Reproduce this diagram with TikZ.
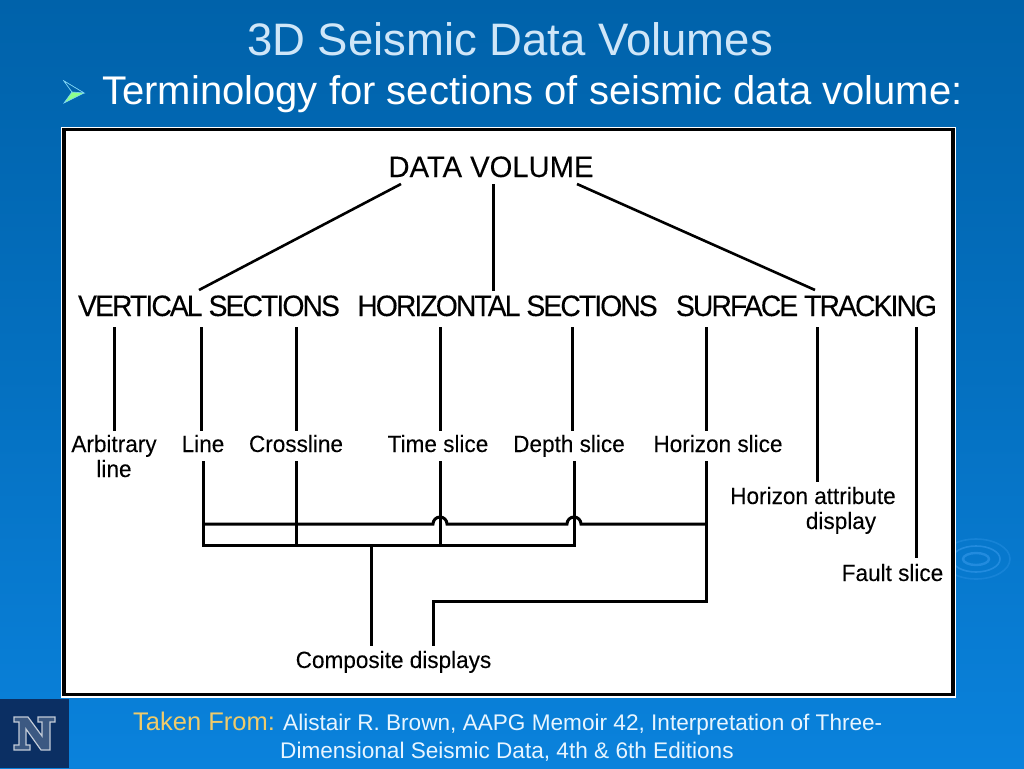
\documentclass[tikz,border=0pt]{standalone}
\usepackage{fontspec}
\setmainfont{Liberation Sans}
\newfontfamily\condfont[FakeStretch=0.96,LetterSpace=-6.5,FakeBold=0.12]{Liberation Sans}
\newfontfamily\leaffont[FakeStretch=0.96,FakeBold=0.08]{Liberation Sans}
\newfontfamily\topfont[FakeStretch=0.99,FakeBold=0.08]{Liberation Sans}
\definecolor{bgtop}{HTML}{0062AA}
\definecolor{bgbot}{HTML}{0A82DC}
\definecolor{logoblue}{HTML}{0B2F63}
\definecolor{titleblue}{HTML}{CFE6F8}
\definecolor{gold}{HTML}{EFCB6A}
\definecolor{paleblue}{HTML}{E8F5FF}
\definecolor{ripple}{HTML}{2E94E6}
\tikzset{
  wire/.style={draw=black,line width=3pt,line cap=butt,line join=miter},
  headlabel/.style={anchor=base,inner sep=0pt,text=black,font=\fontsize{29.5}{31}\condfont},
  toplabel/.style={anchor=base,inner sep=0pt,text=black,font=\fontsize{29.5}{31}\topfont},
  leaflabel/.style={anchor=base,inner sep=0pt,text=black,font=\fontsize{23.5}{25}\leaffont},
  footlabel/.style={anchor=base west,inner sep=0pt,text=paleblue,font=\fontsize{22.6}{24}\selectfont},
  ripplering/.style={draw=ripple,line width=1.6pt,opacity=.7},
}
\begin{document}
\begin{tikzpicture}[x=1pt,y=-1pt]
\useasboundingbox (0,0) rectangle (1024,768);
% background
\shade[top color=bgtop,bottom color=bgbot,middle color=bgtop!55!bgbot] (0,0) rectangle (1024,768);
% ripples
\draw[ripplering,line width=2.4pt] (976,559) ellipse[x radius=13,y radius=6];
\draw[ripplering] (976,559) ellipse[x radius=24,y radius=13];
\draw[ripplering,opacity=.4] (976,559) ellipse[x radius=34,y radius=20];
% logo
\fill[logoblue] (0,699) rectangle (69,768);
\draw[draw=white!75!logoblue,fill=logoblue!80!white,line width=1.2pt,line join=miter]
  (14,717) -- (28,717) -- (42,736) -- (42,722) -- (38,722) -- (38,717) -- (55,717) -- (55,722) -- (50,722)
  -- (50,750) -- (41,750) -- (26,729) -- (26,745) -- (30,745) -- (30,750) -- (14,750) -- (14,745) -- (19,745)
  -- (19,722) -- (14,722) -- cycle;
% title
\node[anchor=base,inner sep=0pt,text=titleblue,font=\fontsize{45.5}{47}\selectfont] (title) at (510,56) {3D Seismic Data Volumes};
\fill[green!45!white,draw=cyan!50!white,line width=.6pt] (64,81) -- (84,93) -- (64,103) -- (72,92) -- cycle;
\fill[bgtop] (64,81) -- (84,93) -- (72,92) -- cycle;
\draw[cyan!50!white,line width=.6pt] (64,81) -- (84,93) -- (72,92) -- cycle;
\node[anchor=base,inner sep=0pt,text=white,font=\fontsize{40}{42}\selectfont] (subtitle) at (532.5,104) {Terminology for sections of seismic data volume:};
% panel
\fill[white] (60.5,127) rectangle (956,697.5);
\draw[black,line width=3.4pt] (64,129.5) rectangle (953,694.3);
% labels
\node[toplabel] (dv) at (491,177) {DATA VOLUME};
\node[headlabel] (vs) at (209,316) {VERTICAL SECTIONS};
\node[headlabel] (hs) at (507.5,316) {HORIZONTAL SECTIONS};
\node[headlabel] (st) at (806.5,316) {SURFACE TRACKING};
\node[leaflabel] (arb) at (114,452) {Arbitrary};
\node[leaflabel] (arb2) at (114,477) {line};
\node[leaflabel] (lin) at (203,452) {Line};
\node[leaflabel] (cro) at (296,452) {Crossline};
\node[leaflabel] (tim) at (438,452) {Time slice};
\node[leaflabel] (dep) at (569,452) {Depth slice};
\node[leaflabel] (hor) at (718,452) {Horizon slice};
\node[leaflabel] (att) at (813,504) {Horizon attribute};
\node[leaflabel] (att2) at (841,529) {display};
\node[leaflabel] (fau) at (892.5,581) {Fault slice};
\node[leaflabel] (com) at (393.5,668) {Composite displays};
% footer
\node[anchor=base west,inner sep=0pt,text=gold,font=\fontsize{25.5}{27}\selectfont] (taken) at (133,730) {Taken From:};
\node[footlabel] (ref1) at (283,730) {Alistair R. Brown, AAPG Memoir 42, Interpretation of Three-};
\node[footlabel] (ref2) at (280,758) {Dimensional Seismic Data, 4th \& 6th Editions};
% coordinates
\coordinate (dva) at (401,184);
\coordinate (vsa) at (199,290);
\coordinate (dvb) at (493,184);
\coordinate (hsb) at (493,291);
\coordinate (dvc) at (577,184);
\coordinate (stc) at (815,290);
\coordinate (jr) at (706,524);
\coordinate (kr) at (706,601);
\coordinate (kl) at (433.5,601);
\coordinate (jl) at (203,524);
\coordinate (bl) at (203,545);
\coordinate (br) at (574,545);
% top connectors
\draw[wire,line width=2.6pt] (dva) -- (vsa);
\draw[wire] (dvb) -- (hsb);
\draw[wire,line width=2.6pt] (dvc) -- (stc);
% head to leaf
\draw[wire] (114,327) coordinate (a0) -- (114,431) coordinate (a1);
\draw[wire] (201,327) coordinate (b0) -- (201,431) coordinate (b1);
\draw[wire] (296,327) coordinate (c0) -- (296,431) coordinate (c1);
\draw[wire] (440,327) coordinate (d0) -- (440,431) coordinate (d1);
\draw[wire] (572,327) coordinate (e0) -- (572,431) coordinate (e1);
\draw[wire] (706,327) coordinate (f0) -- (706,431) coordinate (f1);
\draw[wire] (817,327) coordinate (g0) -- (817,482) coordinate (g1);
\draw[wire] (916.5,327) coordinate (h0) -- (916.5,558) coordinate (h1);
% composite network
\draw[wire] (203,461) coordinate (l0) -- (bl) -- (br) -- (574,461) coordinate (r0);
\draw[wire] (296,461) coordinate (cr0) -- (296,545) coordinate (cr1);
\draw[wire] (440,461) coordinate (t0) -- (440,545) coordinate (t1);
\draw[wire] (jl) -- (433,524) arc[start angle=180,end angle=360,radius=7] -- (567,524) arc[start angle=180,end angle=360,radius=7] -- (jr);
\draw[wire] (706,461) coordinate (hz0) -- (kr) -- (kl) -- (433.5,646) coordinate (ce);
\draw[wire] (371,545) coordinate (cm0) -- (371,646) coordinate (cm1);
\end{tikzpicture}
\end{document}
